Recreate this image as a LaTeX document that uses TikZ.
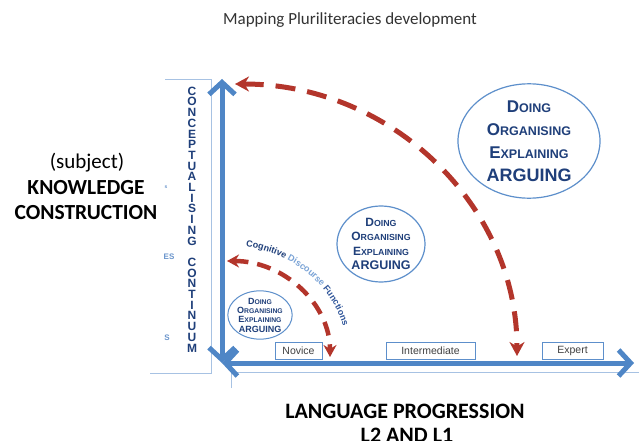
\documentclass[tikz,border=0pt]{standalone}
\usepackage{fontspec}
\setmainfont{Liberation Sans}
\newfontfamily\calfont{Carlito}
\usetikzlibrary{arrows.meta,decorations.text,shapes.geometric}
\definecolor{axisblue}{HTML}{4F86C6}
\definecolor{lightline}{HTML}{A7C2E3}
\definecolor{navy}{HTML}{1F3F7A}
\definecolor{arcred}{HTML}{B3352B}
\definecolor{ellblue}{HTML}{5D8FCB}
\definecolor{boxtext}{HTML}{404040}
\definecolor{fragblue}{HTML}{6A95CC}
\definecolor{cdfa}{HTML}{1F3F7A}
\definecolor{cdfb}{HTML}{7AA3D6}
\definecolor{cdfc}{HTML}{2F559A}
\definecolor{titlegray}{HTML}{333333}
\newcommand\SCw[2]{#1{\scfont #2}}
\begin{document}
\begin{tikzpicture}[x=1pt,y=-1pt,
  axisarrow/.style={draw=axisblue,line width=5pt,{Straight Barb[length=12pt,width=26pt]}-{Straight Barb[length=12pt,width=26pt]}},
  bigarc/.style={draw=arcred,line width=5pt,dash pattern=on 20pt off 12pt,{Stealth[length=14pt,width=15pt]}-{Stealth[length=14pt,width=15pt]}},
  smallarc/.style={draw=arcred,line width=4.5pt,dash pattern=on 14pt off 9pt,{Stealth[length=12pt,width=13pt]}-{Stealth[length=12pt,width=13pt]}},
  lightbox/.style={draw=lightline,line width=1pt},
  bubble/.style={ellipse,draw=ellblue,line width=1.2pt,fill=white,inner sep=0pt,align=center,text=navy},
  levelbox/.style={draw=ellblue,line width=1pt,fill=white,inner sep=0pt,minimum height=17pt,text=boxtext,font=\fontsize{10.5}{12}\selectfont},
  blacklabel/.style={text=black,inner sep=0pt},
  frag/.style={text=fragblue,inner sep=0pt,font=\bfseries\fontsize{8}{9}\selectfont}
]
\useasboundingbox[fill=white] (0,0) rectangle (639,441);

% title
\node[anchor=base,text=titlegray,inner sep=0pt,font=\calfont\fontsize{17}{19}\selectfont] (title) at (350,25) {Mapping Pluriliteracies development};

% light bracket and bottom frame
\coordinate (brA) at (165,80);
\coordinate (brB) at (211,80);
\coordinate (brC) at (211,373);
\coordinate (brD) at (150,373);
\draw[lightbox] (brA) -- (brB) -- (brC) -- (brD);
\coordinate (bfA) at (231,388);
\coordinate (bfB) at (231,372);
\coordinate (bfC) at (639,372);
\draw[lightbox] (bfA) -- (bfB) -- (bfC);

% axes
\coordinate (vtop) at (222,79);
\coordinate (vbot) at (222,363);
\coordinate (hleft) at (222,363);
\coordinate (hright) at (634,363);
\draw[axisarrow] (vbot) -- (vtop);
\draw[axisarrow] (hleft) -- (hright);

% red arcs
\coordinate (bigtop) at (235,84);
\coordinate (bigbot) at (517,356);
\draw[bigarc] (bigtop) .. controls (391,84) and (517,205) .. (bigbot);
\coordinate (midtop) at (227,261);
\coordinate (midbot) at (330,357);
\draw[smallarc] (midtop) .. controls (284,261) and (330,304) .. (midbot);

% curved label
\coordinate (cdfstart) at (227,245);
\coordinate (cdfend) at (348,357);
\path[decorate,decoration={text along path,text align={left indent=19pt},
  text={|\bfseries\fontsize{9}{10}\selectfont\color{cdfa}|Cognitive |\bfseries\fontsize{9}{10}\selectfont\color{cdfb}|Discourse |\bfseries\fontsize{9}{10}\selectfont\color{cdfc}|Functions}}]
  (cdfstart) .. controls (293.8,245) and (348,295.1) .. (cdfend);

% bubbles
\node[bubble,minimum width=142pt,minimum height=114pt,
  font={\bfseries\fontsize{17}{23}\selectfont\def\scfont{\fontsize{12.5}{23}\selectfont}}] (big) at (529,141)
  {\SCw{D}{OING}\\\SCw{O}{RGANISING}\\\SCw{E}{XPLAINING}\\{\fontsize{18}{23}\selectfont ARGUING}};
\node[bubble,minimum width=88pt,minimum height=76pt,
  font={\bfseries\fontsize{12}{14.3}\selectfont\def\scfont{\fontsize{8.8}{14.3}\selectfont}}] (mid) at (381,244)
  {\SCw{D}{OING}\\\SCw{O}{RGANISING}\\\SCw{E}{XPLAINING}\\{\fontsize{12.5}{14.3}\selectfont ARGUING}};
\node[bubble,minimum width=56pt,minimum height=45pt,line width=1pt,
  font={\bfseries\fontsize{9}{9.3}\selectfont\def\scfont{\fontsize{6.8}{9.3}\selectfont}}] (small) at (260,315)
  {\SCw{D}{OING}\\\SCw{O}{RGANISING}\\\SCw{E}{XPLAINING}\\{\fontsize{9}{9.3}\selectfont ARGUING}};

% level boxes
\node[levelbox,minimum width=47pt] (novice) at (298.5,350.5) {Novice};
\node[levelbox,minimum width=89pt] (inter) at (430.5,350.5) {Intermediate};
\node[levelbox,minimum width=61pt] (expert) at (572.5,350.5) {Expert};

% vertical label
\node[text=navy,inner sep=0pt,align=center,font=\bfseries\fontsize{12}{10.7}\selectfont] (vlabel) at (192,219.5)
  {C\\O\\N\\C\\E\\P\\T\\U\\A\\L\\I\\S\\I\\N\\G\\[10.7pt]C\\O\\N\\T\\I\\N\\U\\U\\M};

% fragments
\node[frag,font=\bfseries\fontsize{5}{6}\selectfont] (fragA) at (166,187) {s};
\node[frag] (fragB) at (169,257) {ES};
\node[frag] (fragC) at (167,338) {S};

% black labels
\node[blacklabel,anchor=base,font=\calfont\fontsize{21}{24}\selectfont] (subj) at (87,168) {(subject)};
\node[blacklabel,anchor=base,font=\calfont\bfseries\fontsize{21.5}{24}\selectfont] (know) at (86,194) {KNOWLEDGE};
\node[blacklabel,anchor=base,font=\calfont\bfseries\fontsize{21.5}{24}\selectfont] (constr) at (86,219) {CONSTRUCTION};
\node[blacklabel,anchor=base,font=\calfont\bfseries\fontsize{22}{24}\selectfont] (lang) at (405,418) {LANGUAGE PROGRESSION};
\node[blacklabel,anchor=base,font=\calfont\bfseries\fontsize{22}{24}\selectfont] (l2l1) at (407,442) {L2 AND L1};
\end{tikzpicture}
\end{document}
